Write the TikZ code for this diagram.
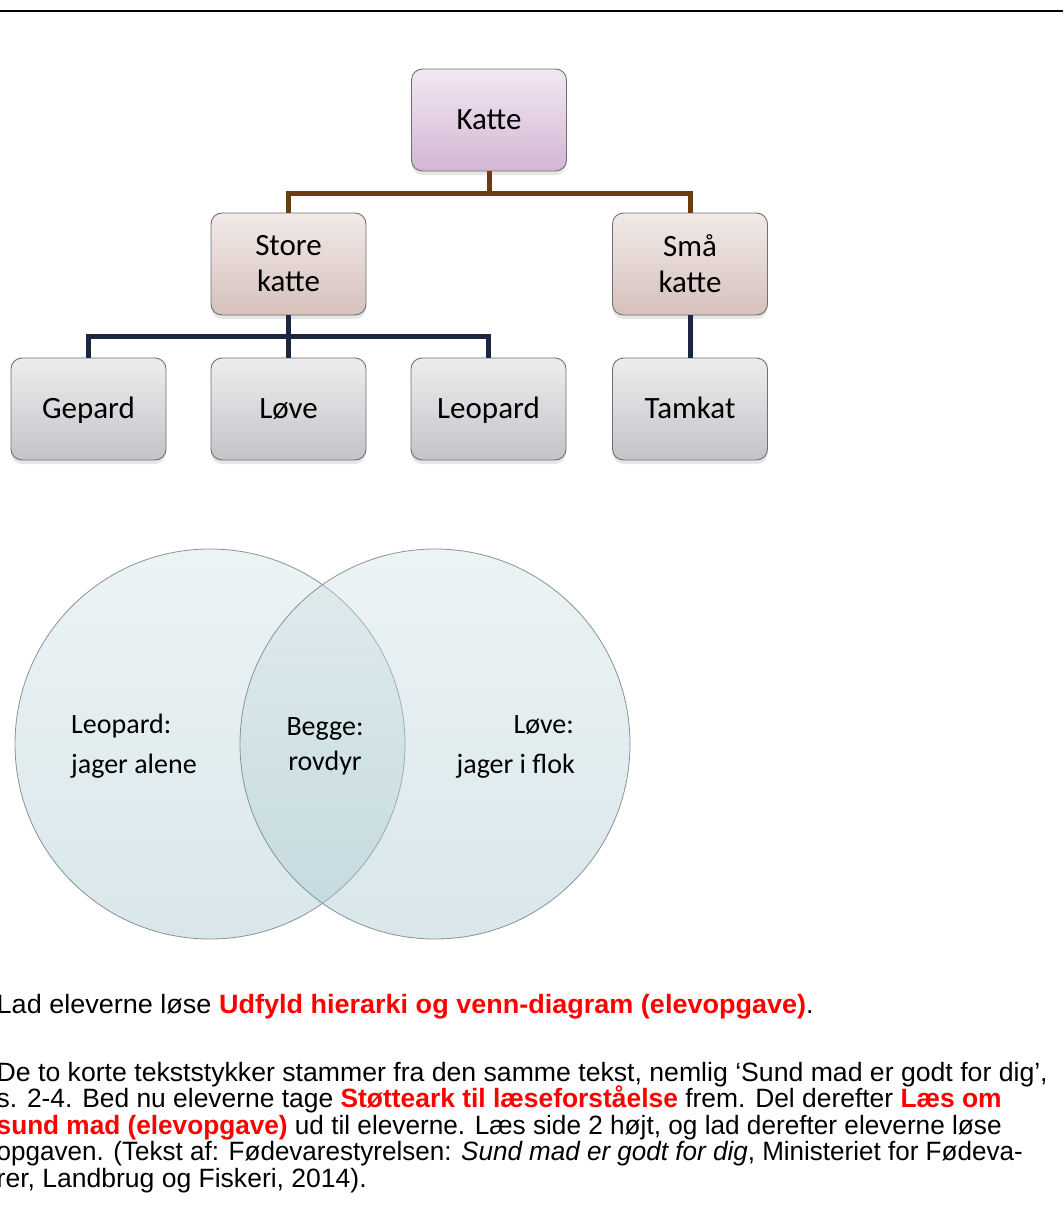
\documentclass[tikz,border=0pt]{standalone}
\usepackage{fontspec}
\setmainfont{Carlito}
\newfontfamily\arialfont{Liberation Sans}
\usetikzlibrary{shadows}
\definecolor{kattetop}{HTML}{F2E8F2}
\definecolor{kattebot}{HTML}{D3B6D4}
\definecolor{midtop}{HTML}{F1EAE8}
\definecolor{midbot}{HTML}{D6C1BC}
\definecolor{lowtop}{HTML}{EDEDEF}
\definecolor{lowbot}{HTML}{C3C4C8}
\definecolor{boxedge}{HTML}{707070}
\definecolor{brownline}{HTML}{6A3C10}
\definecolor{navyline}{HTML}{1B2640}
\definecolor{venntop}{HTML}{D2E3E6}
\definecolor{vennbot}{HTML}{A4C6CE}
\definecolor{vennedge}{HTML}{8A9294}
\definecolor{redtext}{HTML}{FF0000}
\tikzset{
  hbox/.style={draw=boxedge, line width=0.9pt, rounded corners=11pt,
    minimum width=155pt, minimum height=102pt, inner sep=0pt, align=center,
    font=\fontsize{31}{36}\selectfont,
    drop shadow={opacity=0.2, shadow xshift=0pt, shadow yshift=-4pt}},
  oneline/.style={text height=20pt, text depth=2pt},
  toplevel/.style={hbox, oneline, top color=kattetop, bottom color=kattebot},
  midlevel/.style={hbox, top color=midtop, bottom color=midbot},
  lowlevel/.style={hbox, oneline, top color=lowtop, bottom color=lowbot},
  brownconn/.style={draw=brownline, line width=5pt},
  navyconn/.style={draw=navyline, line width=5pt},
  venncircle/.style={circle, draw=vennedge, line width=0.8pt, minimum size=390pt,
    inner sep=0pt, top color=venntop, bottom color=vennbot, fill opacity=0.42, draw opacity=1},
  venntext/.style={font=\fontsize{28}{34}\selectfont, inner sep=0pt},
  bodyline/.style={anchor=base west, inner sep=0pt, font=\arialfont\fontsize{26.5}{26.5}\selectfont}
}
\newcommand{\rb}[1]{\textcolor{redtext}{\bfseries #1}}
\newcommand{\fitline}[2]{\resizebox{#1pt}{\height}{#2}}
\begin{document}
\begin{tikzpicture}[x=1pt,y=-1pt]
\useasboundingbox (0,0) rectangle (1063,1218);
\clip (0,0) rectangle (1063,1218);
% top rule
\draw[line width=2.4pt] (0,11) -- (1063,11);
% hierarchy
\node[toplevel] (katte) at (489,120) {Katte};
\node[midlevel] (store) at (288.5,264) {Store\\katte};
\node[midlevel] (smaa) at (690,264) {Små\\katte};
\node[lowlevel] (gepard) at (88.5,409) {Gepard};
\node[lowlevel] (love) at (288.5,409) {Løve};
\node[lowlevel] (leopard) at (488.5,409) {Leopard};
\node[lowlevel] (tamkat) at (690,409) {Tamkat};
\coordinate (jb) at (489,193);
\coordinate (jn) at (288.5,336);
\draw[brownconn] (katte.south) -- (jb) -| (store.north);
\draw[brownconn] (jb) -| (smaa.north);
\draw[navyconn] (store.south) -- (love.north);
\draw[navyconn] (jn) -| (gepard.north);
\draw[navyconn] (jn) -| (leopard.north);
\draw[navyconn] (smaa.south) -- (tamkat.north);
% venn
\node[venncircle] (vl) at (210,744) {};
\node[venncircle] (vr) at (435,744) {};
\node[venntext, anchor=base west] (t1) at (71,733) {Leopard:};
\node[venntext, anchor=base west] (t2) at (71,773) {jager alene};
\node[venntext, anchor=base] (t3) at (325,735) {Begge:};
\node[venntext, anchor=base] (t4) at (325,770) {rovdyr};
\node[venntext, anchor=base east] (t5) at (574,733) {Løve:};
\node[venntext, anchor=base east] (t6) at (575,773) {jager i flok};
% body text
\node[bodyline] (l1) at (-3.5,1013) {\fitline{817}{Lad eleverne løse \rb{Udfyld hierarki og venn-diagram (elevopgave)}.}};
\node[bodyline] (l2) at (-3.5,1081) {\fitline{1051}{De to korte tekststykker stammer fra den samme tekst, nemlig ‘Sund mad er godt for dig’,}};
\node[bodyline] (l3) at (-3.5,1107.5) {\fitline{1005}{s. 2-4. Bed nu eleverne tage \rb{Støtteark til læseforståelse} frem. Del derefter \rb{Læs om}}};
\node[bodyline] (l4) at (-3.5,1134) {\fitline{1005}{\rb{sund mad (elevopgave)} ud til eleverne. Læs side 2 højt, og lad derefter eleverne løse}};
\node[bodyline] (l5) at (-3.5,1160.5) {\fitline{1026}{opgaven. (Tekst af: Fødevarestyrelsen: \textit{Sund mad er godt for dig}, Ministeriet for Fødeva-}};
\node[bodyline] (l6) at (-3.5,1187) {\fitline{370}{rer, Landbrug og Fiskeri, 2014).}};
\end{tikzpicture}
\end{document}
